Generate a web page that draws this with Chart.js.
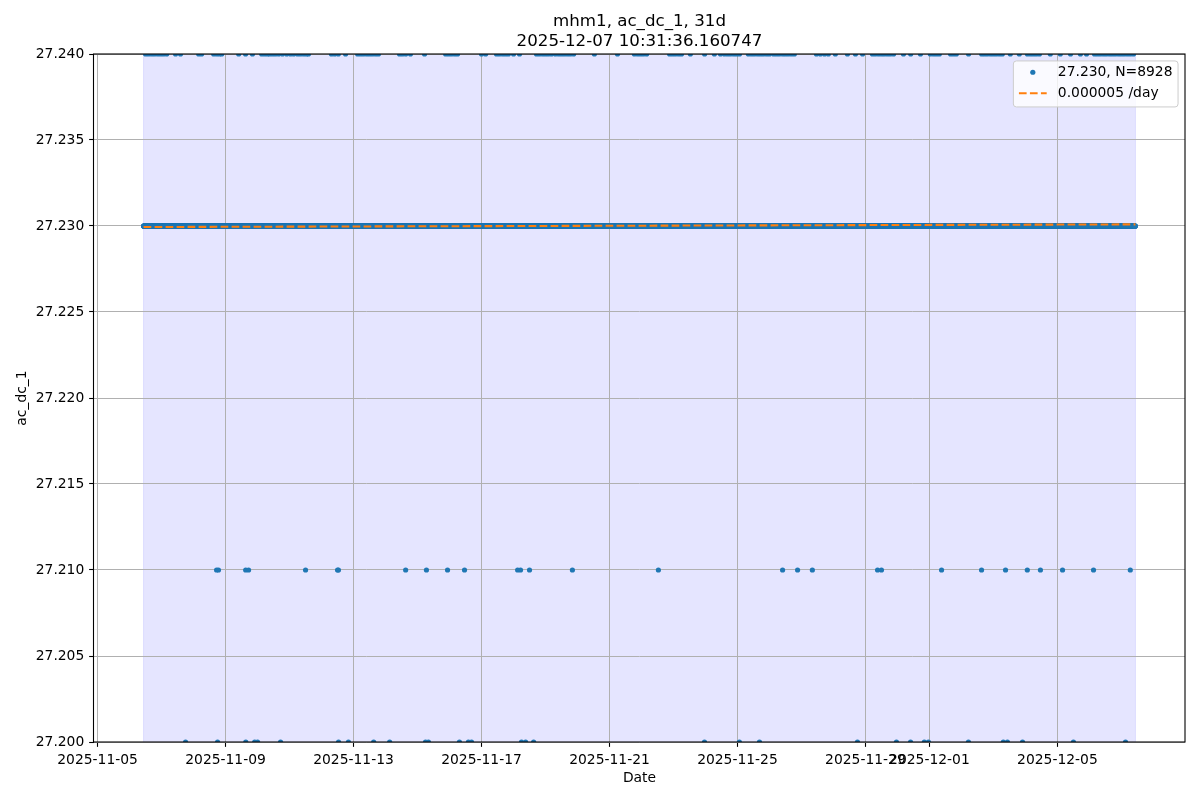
<!DOCTYPE html>
<html><head><meta charset="utf-8">
<script src="https://cdn.jsdelivr.net/npm/chart.js@4.4.1/dist/chart.umd.min.js"></script>
<style>html,body{margin:0;padding:0;background:#fff}#wrap{width:1200px;height:800px}</style>
</head><body><div id="wrap"><canvas id="c" width="1200" height="800"></canvas></div>
<script>
// ---------------- data ----------------
const titleLines = ["mhm1, ac_dc_1, 31d", "2025-12-07 10:31:36.160747"];
const xAxisTitle = "Date";
const yAxisTitle = "ac_dc_1";
const xTickLabels = ["2025-11-05", "2025-11-09", "2025-11-13", "2025-11-17", "2025-11-21",
                     "2025-11-25", "2025-11-29", "2025-12-01", "2025-12-05"];
const yTickValues = [27.200, 27.205, 27.210, 27.215, 27.220, 27.225, 27.230, 27.235, 27.240];
const endTime = "2025-12-07T10:31:36.160Z";
const spanDays = 31;
const sampleMinutes = 5;
const sampleCount = 8928;
const baseValue = 27.230;
const dayZero = "2025-11-05T00:00:00Z";   // outlier times are days after this
const highValue = 27.240, midValue = 27.210, lowValue = 27.200;
const highDays = [1.50,1.59,1.69,1.78,1.88,1.97,2.06,2.16,2.44,2.59,3.16,3.25,3.63,3.72,3.81,3.88,
  4.41,4.63,4.84,5.13,5.22,5.31,5.38,5.47,5.56,5.66,5.78,5.91,6.03,6.13,6.25,6.34,6.44,6.53,6.59,
  7.31,7.41,7.53,7.75,8.13,8.22,8.31,8.41,8.50,8.59,8.69,8.78,9.44,9.53,9.63,9.78,
  10.22,10.88,10.97,11.06,11.16,11.25,12.00,12.13,12.47,12.56,12.66,12.75,12.84,13.00,13.19,
  13.72,13.81,13.91,14.00,14.09,14.19,14.31,14.41,14.50,14.59,14.69,14.78,14.88,15.53,16.25,
  16.78,16.88,16.97,17.06,17.16,17.88,17.97,18.06,18.16,18.25,18.53,18.97,19.28,19.47,19.59,19.69,
  19.78,19.88,19.97,20.06,20.34,20.44,20.53,20.63,20.72,20.81,20.91,21.00,21.13,21.22,21.31,21.41,
  21.50,21.59,21.69,21.78,22.47,22.59,22.72,22.84,23.06,23.44,23.69,23.91,24.22,24.31,24.41,24.50,
  24.59,24.69,24.78,24.88,25.19,25.41,25.72,26.03,26.13,26.22,26.31,26.66,26.75,26.84,27.22,
  27.63,27.72,27.81,27.91,28.00,28.09,28.19,28.28,28.53,28.81,29.06,29.16,29.25,29.34,29.44,
  29.78,30.09,30.41,30.72,30.91,31.16,31.25,31.34,31.44,31.53,31.63,31.72,31.81,31.91,32.00,
  32.09,32.19,32.28,32.38];
const midDays = [3.72,3.78,4.63,4.72,6.50,7.50,7.53,9.63,10.28,10.94,11.47,13.13,13.22,13.50,14.84,
  17.53,21.41,21.88,22.34,24.38,24.50,26.38,27.63,28.38,29.06,29.47,30.16,31.13,32.28];
const lowDays = [2.75,3.75,4.63,4.91,5.00,5.72,7.53,7.84,8.63,9.13,10.25,10.34,11.31,11.59,11.69,
  13.25,13.38,13.63,18.97,20.06,20.69,23.75,24.97,25.41,25.84,25.97,27.22,28.31,28.44,28.91,30.50,32.13];
const trendStartValue = 27.22994, trendEndValue = 27.230095;
const seriesLabel = "27.230, N=8928";
const trendLabel = "0.000005 /day";

// ---------------- build ----------------
const DAY = 86400000;
const endMs = Date.parse(endTime);
const startMs = endMs - spanDays * DAY;
const stepMs = sampleMinutes * 60000;
const zeroMs = Date.parse(dayZero);
const values = new Array(sampleCount).fill(baseValue);
const taken = new Array(sampleCount).fill(false);
function put(days, v) {
  days.forEach(d => {
    const t = zeroMs + d * DAY;
    let i = Math.round((t - startMs) / stepMs);
    i = Math.max(0, Math.min(sampleCount - 1, i));
    // each sample holds one reading: use the nearest free sample
    for (let k = 0; k < sampleCount; k++) {
      const a = i + k, b = i - k;
      if (a < sampleCount && !taken[a]) { i = a; break; }
      if (b >= 0 && !taken[b]) { i = b; break; }
    }
    taken[i] = true;
    values[i] = v;
  });
}
put(midDays, midValue); put(lowDays, lowValue); put(highDays, highValue);
const points = values.map((v, i) => ({x: startMs + i * stepMs, y: v}));
const xMin = startMs - 0.05 * spanDays * DAY, xMax = endMs + 0.05 * spanDays * DAY;
const xTickMs = xTickLabels.map(s => Date.parse(s + "T00:00:00Z"));

const FONT = "'DejaVu Sans', sans-serif";
const FS = 13.89;
const BLUE = '#1f77b4', ORANGE = '#ff7f0e';
Chart.defaults.font.family = FONT;

const decor = {
  id: 'decor',
  beforeDraw(chart) {
    const {ctx, chartArea: a, scales: {x}} = chart;
    const x0 = x.getPixelForValue(startMs), x1 = x.getPixelForValue(endMs);
    ctx.save();
    ctx.fillStyle = 'rgba(0,0,255,0.1)';
    ctx.fillRect(x0, a.top, x1 - x0, a.bottom - a.top);
    ctx.strokeStyle = 'rgba(0,0,255,0.1)';
    ctx.lineWidth = 1;
    ctx.beginPath();
    ctx.moveTo(x0, a.top); ctx.lineTo(x0, a.bottom);
    ctx.moveTo(x1, a.top); ctx.lineTo(x1, a.bottom);
    ctx.stroke();
    ctx.restore();
  },
  afterDatasetsDraw(chart) {
    const {ctx, chartArea: a} = chart;
    ctx.save();
    ctx.strokeStyle = '#000'; ctx.lineWidth = 1.1;
    ctx.strokeRect(Math.round(a.left) - 0.5, Math.round(a.top) + 0.0, Math.round(a.right - a.left) + 0.5, Math.round(a.bottom - a.top));
    ctx.restore();
  },
  afterDraw(chart) {
    const {ctx, chartArea: a} = chart;
    ctx.save();
    // title
    ctx.fillStyle = '#000';
    ctx.font = `16.67px ${FONT}`;
    ctx.textAlign = 'center'; ctx.textBaseline = 'alphabetic';
    const cx = (a.left + a.right) / 2;
    ctx.fillText(titleLines[0], cx, a.top - 28);
    ctx.fillText(titleLines[1], cx, a.top - 8);
    // legend
    ctx.font = `${FS}px ${FONT}`;
    const tw = Math.max(ctx.measureText(seriesLabel).width, ctx.measureText(trendLabel).width);
    const pad = 0.4 * FS, hl = 2 * FS, htp = 0.8 * FS;
    const bw = pad + hl + htp + tw + pad, bh = 46;
    const right = a.right - 0.5 * FS, top = a.top + 0.5 * FS, left = right - bw;
    ctx.beginPath();
    if (ctx.roundRect) ctx.roundRect(left, top, bw, bh, 3); else ctx.rect(left, top, bw, bh);
    ctx.fillStyle = 'rgba(255,255,255,0.8)'; ctx.fill();
    ctx.strokeStyle = '#cccccc'; ctx.lineWidth = 1; ctx.stroke();
    const r1 = top + 11.3, r2 = top + 32.3;
    ctx.fillStyle = BLUE;
    ctx.beginPath(); ctx.arc(left + pad + hl / 2, r1, 2.6, 0, Math.PI * 2); ctx.fill();
    ctx.strokeStyle = ORANGE; ctx.lineWidth = 2.08; ctx.setLineDash([7.7, 3.3]);
    ctx.beginPath(); ctx.moveTo(left + pad, r2); ctx.lineTo(left + pad + hl, r2); ctx.stroke();
    ctx.setLineDash([]);
    ctx.fillStyle = '#000'; ctx.textAlign = 'left'; ctx.textBaseline = 'middle';
    ctx.fillText(seriesLabel, left + pad + hl + htp, r1);
    ctx.fillText(trendLabel, left + pad + hl + htp, r2);
    ctx.restore();
  }
};

new Chart(document.getElementById('c'), {
  type: 'scatter',
  data: {
    datasets: [
      { type: 'line', label: trendLabel,
        data: [{x: startMs, y: trendStartValue}, {x: endMs, y: trendEndValue}],
        borderColor: ORANGE, borderWidth: 2.08, borderDash: [7.7, 3.3],
        pointRadius: 0, showLine: true, fill: false, clip: 0 },
      { label: seriesLabel, data: points, backgroundColor: BLUE, borderWidth: 0,
        pointRadius: 2.6, pointHoverRadius: 2.6, clip: 0 }
    ]
  },
  options: {
    responsive: false, animation: false, events: [],
    layout: { padding: { top: 54, right: 15, left: 0, bottom: 0 } },
    plugins: { legend: { display: false }, tooltip: { enabled: false }, title: { display: false } },
    scales: {
      x: {
        type: 'linear', min: xMin, max: xMax,
        afterFit: s => { s.height = 58; },
        afterBuildTicks: s => { s.ticks = xTickMs.map(v => ({value: v})); },
        ticks: { autoSkip: false, maxRotation: 0, minRotation: 0, padding: 4.86, color: '#000',
                 font: { size: FS },
                 callback: (v) => { const i = xTickMs.indexOf(v); return i >= 0 ? xTickLabels[i] : ''; } },
        grid: { color: '#b0b0b0', lineWidth: 1, tickColor: '#000', tickLength: 4.86, tickWidth: 1.1 },
        border: { display: false },
        title: { display: true, text: xAxisTitle, color: '#000', font: { size: FS }, padding: { top: 0, bottom: 13.7 } }
      },
      y: {
        type: 'linear', min: yTickValues[0], max: yTickValues[yTickValues.length - 1],
        afterFit: s => { s.width = 94; },
        afterBuildTicks: s => { s.ticks = yTickValues.map(v => ({value: v})); },
        ticks: { padding: 4.86, color: '#000', font: { size: FS }, callback: v => Number(v).toFixed(3) },
        grid: { color: '#b0b0b0', lineWidth: 1, tickColor: '#000', tickLength: 4.86, tickWidth: 1.1 },
        border: { display: false },
        title: { display: true, text: yAxisTitle, color: '#000', font: { size: FS }, padding: { top: 13.7, bottom: 0 } }
      }
    }
  },
  plugins: [decor]
});
</script></body></html>
